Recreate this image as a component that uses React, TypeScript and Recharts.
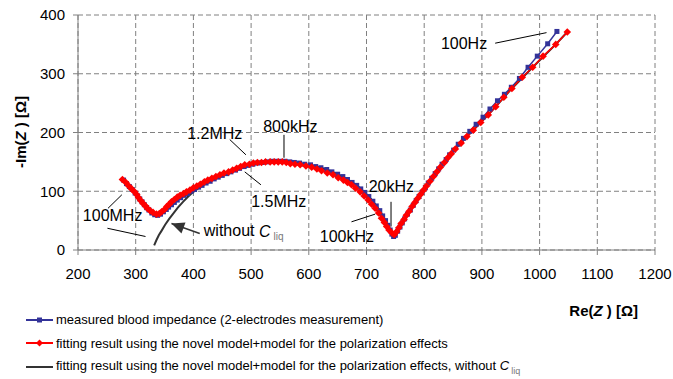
import { LineChart, Line, XAxis, YAxis, CartesianGrid, ReferenceLine, ReferenceDot, Legend } from "recharts";

// measured blood impedance (2 electrodes)
const measuredRe = [
  279, 284, 289, 294, 299, 303, 307, 311, 315, 319, 323, 328, 333, 338, 343, 348, 353, 357, 362, 367,
  372, 378, 384, 390, 396, 402, 409, 415, 422, 429, 436, 443, 450, 458, 465, 473, 480, 488, 495, 503,
  511, 519, 527, 535, 543, 551, 559, 567, 575, 584, 593, 603, 612, 621, 631, 640, 650, 659, 667, 675,
  683, 690, 697, 704, 711, 717, 723, 728, 733, 737, 741, 744, 747, 750, 754, 758, 762, 766, 771, 776,
  781, 786, 791, 796, 802, 807, 813, 819, 825, 831, 838, 844, 851, 859, 868, 879, 890, 902, 914, 927,
  939, 951, 965, 980, 996, 1014, 1030,
];
const measuredIm = [
  119, 113, 108, 103, 97, 92, 87, 82, 77, 72, 68, 63, 60, 59, 61, 65, 69, 73, 77, 81,
  85, 89, 93, 96, 100, 103, 107, 110, 114, 117, 121, 124, 127, 130, 133, 136, 139, 142, 144, 146,
  148, 149, 150, 151, 151, 151, 151, 150, 149, 148, 146, 145, 142, 140, 137, 133, 129, 125, 120, 115,
  110, 104, 98, 91, 83, 75, 67, 58, 50, 42, 34, 27, 23, 25, 32, 39, 46, 53, 61, 68,
  76, 84, 91, 98, 106, 114, 122, 130, 138, 146, 154, 162, 170, 180, 190, 202, 214, 226, 240, 254,
  265, 277, 292, 311, 330, 351, 372,
];

// fit: novel model + polarization model
const fitRe = [
  277, 283, 288, 293, 298, 302, 305, 309, 313, 317, 320, 325, 330, 336, 341, 345, 350, 354, 358, 362,
  367, 372, 377, 383, 388, 394, 400, 406, 412, 419, 425, 432, 439, 446, 453, 461, 468, 475, 482, 489,
  497, 504, 511, 518, 525, 533, 540, 547, 554, 561, 568, 576, 585, 595, 605, 614, 622, 632, 642, 651,
  660, 667, 674, 681, 689, 696, 703, 709, 715, 721, 726, 731, 735, 739, 744, 748, 752, 756, 760, 765,
  769, 774, 779, 784, 789, 794, 799, 804, 810, 816, 822, 828, 835, 841, 847, 854, 864, 874, 885, 898,
  911, 924, 938, 952, 970, 988, 1006, 1028, 1048,
];
const fitIm = [
  120, 115, 109, 104, 99, 94, 89, 84, 79, 75, 71, 67, 64, 61, 62, 65, 69, 74, 78, 82,
  86, 90, 93, 96, 99, 102, 106, 109, 112, 116, 119, 122, 125, 128, 131, 133, 136, 139, 142, 145,
  146, 148, 149, 149, 150, 150, 150, 150, 150, 149, 147, 146, 145, 143, 141, 138, 135, 131, 128, 123,
  119, 115, 111, 105, 99, 92, 85, 78, 71, 63, 54, 47, 40, 34, 29, 26, 31, 38, 45, 52,
  59, 66, 74, 81, 88, 95, 102, 109, 117, 125, 133, 141, 149, 157, 164, 172, 182, 193, 204, 217,
  230, 244, 260, 275, 294, 311, 330, 350, 371,
];

// fit without C_liq
const noCliqRe = [
  332, 336, 340, 345, 351, 358, 365, 373, 382, 391, 400, 410, 422, 436, 450, 465, 480, 495, 511, 527,
  543, 559, 575, 593, 612, 631, 650, 667, 683, 697, 711, 723, 733, 741, 747, 752, 758, 766, 776, 786,
  796, 807, 819, 831, 844, 854, 874, 898, 924, 952, 988, 1028, 1048,
];
const noCliqIm = [
  8, 17, 25, 33, 43, 53, 62, 72, 82, 91, 99, 106, 114, 121, 127, 133, 139, 144, 148, 150,
  151, 150, 149, 146, 142, 137, 129, 120, 110, 98, 83, 67, 50, 35, 26, 30, 39, 52, 68, 84,
  98, 114, 130, 146, 162, 172, 193, 217, 244, 275, 311, 350, 371,
];

const xTicks = [200, 300, 400, 500, 600, 700, 800, 900, 1000, 1100, 1200];
const yTicks = [0, 100, 200, 300, 400];

// frequency labels and their leader lines, in Re/Im units
const freqLabels = [
  { text: "100Hz", re: 869, im: 352 },
  { text: "800kHz", re: 568, im: 211 },
  { text: "1.2MHz", re: 437, im: 199 },
  { text: "1.5MHz", re: 548, im: 83 },
  { text: "100MHz", re: 260, im: 58 },
  { text: "20kHz", re: 743, im: 108 },
  { text: "100kHz", re: 666, im: 23 },
];
const leaders = [
  [[923, 352], [1012, 370]],
  [[557, 196], [557, 157]],
  [[463, 188], [491, 162]],
  [[489, 133], [517, 111]],
  [[252, 71], [276, 94]],
  [[251, 37], [317, 23]],
  [[742.5, 82], [742.5, 40]],
  [[674, 48], [715, 61]],
];
const arrowFrom = [411, 28];
const arrowTo = [362, 45];

const toPoints = (re: number[], im: number[]) => re.map((r, i) => ({ re: r, im: im[i] }));
const measured = toPoints(measuredRe, measuredIm);
const fit = toPoints(fitRe, fitIm);
const noCliq = toPoints(noCliqRe, noCliqIm);

const FONT = '"Liberation Sans", Arial, sans-serif';
const BLUE = "#333399";
const RED = "#ff0000";
const DARK = "#333333";
const GRID = "#808080";

const Square = (p: any) => (
  <rect key={`s${p.index}`} x={p.cx - 2.5} y={p.cy - 2.5} width={5} height={5} fill={BLUE} />
);
const Diamond = (p: any) => (
  <polygon
    key={`d${p.index}`}
    points={`${p.cx},${p.cy - 3.8} ${p.cx + 3.8},${p.cy} ${p.cx},${p.cy + 3.8} ${p.cx - 3.8},${p.cy}`}
    fill={RED}
  />
);

const legendRows = [
  { color: BLUE, marker: "square", text: "measured blood impedance (2-electrodes measurement)" },
  { color: RED, marker: "diamond", text: "fitting result using the novel model+model for the polarization effects" },
  { color: DARK, marker: "none", text: "fitting result using the novel model+model for the polarization effects, without " },
];

function LegendContent() {
  return (
    <div style={{ fontFamily: FONT, fontSize: 13, color: "#000" }}>
      {legendRows.map((row, i) => (
        <div key={i} style={{ display: "flex", alignItems: "center", height: 23.5 }}>
          <svg width={30} height={10} style={{ marginRight: 0 }}>
            <line x1={0} y1={5} x2={27} y2={5} stroke={row.color} strokeWidth={2} />
            {row.marker === "square" && <rect x={11} y={2.5} width={5} height={5} fill={row.color} />}
            {row.marker === "diamond" && <polygon points="13.5,1.5 17,5 13.5,8.5 10,5" fill={row.color} />}
          </svg>
          <span style={{ whiteSpace: "nowrap" }}>
            {row.text}
            {i === 2 && (
              <>
                <i>C</i>
                <sub style={{ fontSize: 9, color: "#777", marginLeft: 2 }}>liq</sub>
              </>
            )}
          </span>
        </div>
      ))}
    </div>
  );
}

const tickStyle = { fill: "#000", fontSize: 15, fontFamily: FONT };

export default function App() {
  return (
    <div style={{ position: "absolute", left: 0, top: 0, background: "#fff" }}>
      <LineChart width={673} height={379} margin={{ top: 15, right: 18, left: 0, bottom: 69 }}>
        <CartesianGrid stroke={GRID} strokeDasharray="5 3" />
        <XAxis
          type="number"
          dataKey="re"
          domain={[200, 1200]}
          ticks={xTicks}
          height={60}
          stroke={GRID}
          tick={tickStyle}
          tickSize={5}
          tickMargin={13}
          allowDataOverflow
          label={{
            content: (props: any) => {
              const vb = props.viewBox;
              return (
                <text x={vb.x + vb.width - 17} y={vb.y + 66} textAnchor="end" fontFamily={FONT} fontSize={15} fontWeight="bold">
                  Re(<tspan fontStyle="italic">Z</tspan> ) [Ω]
                </text>
              );
            },
          }}
        />
        <YAxis
          type="number"
          dataKey="im"
          domain={[0, 400]}
          ticks={yTicks}
          width={78}
          stroke={GRID}
          tick={tickStyle}
          tickSize={5}
          tickMargin={8}
          label={{
            content: () => (
              <text x={20} y={132} transform="rotate(-90 20 132)" textAnchor="middle" dominantBaseline="central" fontFamily={FONT} fontSize={15} fontWeight="bold">
                -Im(<tspan fontStyle="italic">Z</tspan> ) [Ω]
              </text>
            ),
          }}
        />
        <Line data={measured} dataKey="im" name="measured" stroke={BLUE} strokeWidth={1.5} dot={Square} isAnimationActive={false} />
        <Line data={noCliq} dataKey="im" name="noCliq" stroke={DARK} strokeWidth={2} dot={false} isAnimationActive={false} />
        <Line data={fit} dataKey="im" name="fit" stroke={RED} strokeWidth={1.5} dot={Diamond} isAnimationActive={false} />
        {leaders.map((seg, i) => (
          <ReferenceLine
            key={`l${i}`}
            segment={[{ x: seg[0][0], y: seg[0][1] }, { x: seg[1][0], y: seg[1][1] }]}
            stroke="#000"
            strokeWidth={1}
            ifOverflow="visible"
          />
        ))}
        <ReferenceLine
          segment={[{ x: arrowFrom[0], y: arrowFrom[1] }, { x: arrowTo[0], y: arrowTo[1] }]}
          stroke={DARK}
          strokeWidth={1.5}
          ifOverflow="visible"
        />
        <ReferenceDot
          x={arrowTo[0]}
          y={arrowTo[1]}
          ifOverflow="visible"
          shape={(p: any) => (
            <polygon
              points={`${p.cx},${p.cy} ${p.cx + 14},${p.cy - 1} ${p.cx + 10},${p.cy + 10}`}
              fill={DARK}
            />
          )}
        />
        <ReferenceDot
          x={418}
          y={33}
          ifOverflow="visible"
          shape={(p: any) => (
            <text x={p.cx} y={p.cy} dominantBaseline="central" fontFamily={FONT} fontSize={16}>
              without <tspan fontStyle="italic">C</tspan>
              <tspan fontSize={10} fill="#777" dy={5} dx={3}>liq</tspan>
            </text>
          )}
        />
        {freqLabels.map((f, i) => (
          <ReferenceDot
            key={`f${i}`}
            x={f.re}
            y={f.im}
            ifOverflow="visible"
            shape={(p: any) => (
              <text x={p.cx} y={p.cy} textAnchor="middle" dominantBaseline="central" fontFamily={FONT} fontSize={16}>
                {f.text}
              </text>
            )}
          />
        ))}
        <Legend
          layout="vertical"
          align="center"
          verticalAlign="middle"
          wrapperStyle={{ top: 308, left: 26, width: 640 }}
          content={() => <LegendContent />}
        />
      </LineChart>
    </div>
  );
}
